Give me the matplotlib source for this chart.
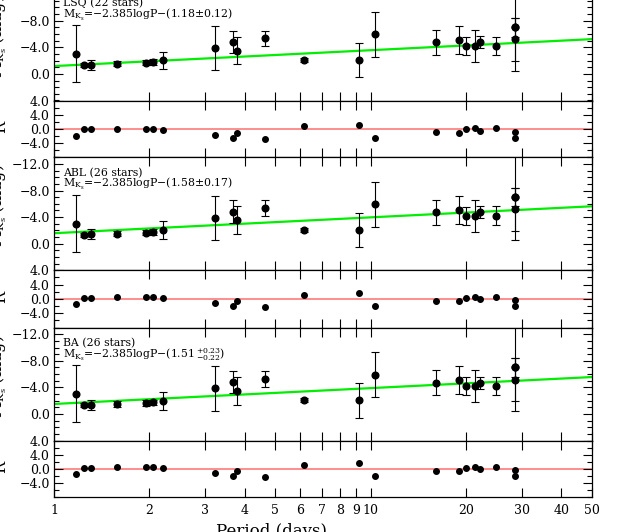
import numpy as np
import matplotlib
matplotlib.use("Agg")
from matplotlib import pyplot as plt
from matplotlib.ticker import FixedLocator, MultipleLocator, FuncFormatter, NullLocator

plt.rcParams['font.family'] = ['DejaVu Serif']
plt.rcParams['mathtext.fontset'] = 'dejavuserif'

# data
period = [1.171, 1.243, 1.309, 1.585, 1.952, 2.06, 2.215, 3.217, 3.67, 3.78, 4.63,
          6.17, 9.18, 10.34, 16.04, 19.05, 20.0, 21.35, 22.07, 24.8, 28.6, 28.6, 28.6]
mag = [-3.03, -1.37, -1.40, -1.52, -1.67, -1.77, -2.02, -3.87, -4.82, -3.52, -5.33,
       -2.07, -2.07, -5.93, -4.73, -5.13, -4.17, -4.17, -4.73, -4.22, -7.0, -5.18, -7.0]
mag_err = [4.3, 0.3, 0.75, 0.4, 0.4, 0.4, 1.35, 3.35, 1.7, 2.1, 1.2,
           0.3, 2.6, 3.35, 1.85, 2.1, 1.33, 2.4, 0.9, 1.4, 1.4, 3.2, 6.5]

res_lsq = [-1.92, -0.14, -0.14, -0.14, 0.05, 0.0, -0.23, -1.73, -2.57, -1.17, -2.76,
           0.7, 1.17, -2.57, -0.98, -1.07, -0.05, 0.14, -0.61, 0.14, -0.8, -2.57, np.nan]
res_abl = [-1.39, 0.28, 0.28, 0.47, 0.56, 0.47, 0.2, -1.2, -2.1, -0.64, -2.3,
           1.22, 1.67, -2.03, -0.45, -0.64, 0.28, 0.47, -0.08, 0.56, -0.17, -2.1, np.nan]
res_ba = [-1.45, 0.22, 0.22, 0.4, 0.5, 0.4, 0.15, -1.25, -2.15, -0.7, -2.35,
          1.15, 1.6, -2.1, -0.5, -0.7, 0.2, 0.4, -0.15, 0.5, -0.25, -2.15, np.nan]

slope = -2.385
zero_points = [1.18, 1.58, 1.51]
names = ["LSQ (22 stars)", "ABL (26 stars)", "BA (26 stars)"]
formulas = [r"M$_{\mathrm{K_s}}$=−2.385logP−(1.18±0.12)",
            r"M$_{\mathrm{K_s}}$=−2.385logP−(1.58±0.17)",
            r"M$_{\mathrm{K_s}}$=−2.385logP−(1.51$\,^{+0.23}_{-0.22}$)"]
residuals = [res_lsq, res_abl, res_ba]

xticks = [1, 2, 3, 4, 5, 6, 7, 8, 9, 10, 20, 30, 40, 50]

W, H = 628, 532
fig = plt.figure(figsize=(W / 100, H / 100), dpi=100)

left, right = 54, 592
main_tops = [-12.5, 157.3, 327.6]
main_bots = [100.5, 270.3, 440.6]
res_bots = [157.3, 327.6, 497.0]


def box(top, bot):
    return [left / W, 1 - bot / H, (right - left) / W, (bot - top) / H]


def fmt(v, pos):
    return ("%.1f" % v).replace("-", "\u2212")


def style(ax):
    ax.set_xscale('log')
    ax.set_xlim(1, 50)
    ax.xaxis.set_major_locator(FixedLocator(xticks))
    ax.xaxis.set_minor_locator(NullLocator())
    ax.tick_params(axis='x', which='major', direction='in', length=6.5, width=0.8,
                   top=True, bottom=True, labelbottom=False)
    ax.tick_params(axis='y', which='both', direction='in', left=True, right=True,
                   width=0.8, labelsize=9, pad=3)
    ax.tick_params(axis='y', which='major', length=6.5)
    ax.tick_params(axis='y', which='minor', length=3.5)
    ax.yaxis.set_major_formatter(FuncFormatter(fmt))
    for s in ax.spines.values():
        s.set_linewidth(0.9)


x_line = np.array([1.0, 50.0])
for i in range(3):
    ax = fig.add_axes(box(main_tops[i], main_bots[i]))
    style(ax)
    ax.set_ylim(4, -13)
    ax.yaxis.set_major_locator(MultipleLocator(4))
    ax.yaxis.set_minor_locator(MultipleLocator(1))
    ax.plot(x_line, slope * np.log10(x_line) - zero_points[i], color='#00ee00', lw=1.6, zorder=2)
    ax.errorbar(period, mag, yerr=mag_err, fmt='o', color='k', ms=4.8, capsize=2.8,
                elinewidth=0.8, capthick=0.8, zorder=3)
    ax.annotate(names[i], xy=(0, 1), xycoords='axes fraction', xytext=(9, -19),
                textcoords='offset pixels', fontsize=7.8, va='baseline')
    ax.annotate(formulas[i], xy=(0, 1), xycoords='axes fraction', xytext=(9, -30),
                textcoords='offset pixels', fontsize=7.8, va='baseline')

    rax = fig.add_axes(box(main_bots[i], res_bots[i]))
    style(rax)
    rax.set_ylim(-8, 8)
    rax.yaxis.set_major_locator(FixedLocator([-4, 0, 4]))
    rax.yaxis.set_minor_locator(FixedLocator([-8, -6, -2, 2, 6, 8]))
    rax.axhline(0, color='#ff6f6f', lw=1.1, zorder=1)
    rax.plot(period, residuals[i], 'o', color='k', ms=4.0, zorder=3)
    if i == 2:
        rax.tick_params(axis='x', labelbottom=True, labelsize=9, pad=5)
        rax.set_xticklabels([str(t) for t in xticks])

    fig.text(-2 / W, 1 - ((main_tops[i] + main_bots[i]) / 2 - 8) / H, r"M$_{\mathrm{K_s}}$ (mag)",
             rotation=90, ha='center', va='center', fontsize=11.5)
    fig.text(0.5 / W, 1 - ((main_bots[i] + res_bots[i]) / 2 - 2) / H, "R",
             rotation=90, ha='center', va='center', fontsize=11.5)

fig.text(271 / W, 1 - 531 / H, "Period (days)", ha='center', va='center', fontsize=12)

fig.savefig("out.png", dpi=100)
